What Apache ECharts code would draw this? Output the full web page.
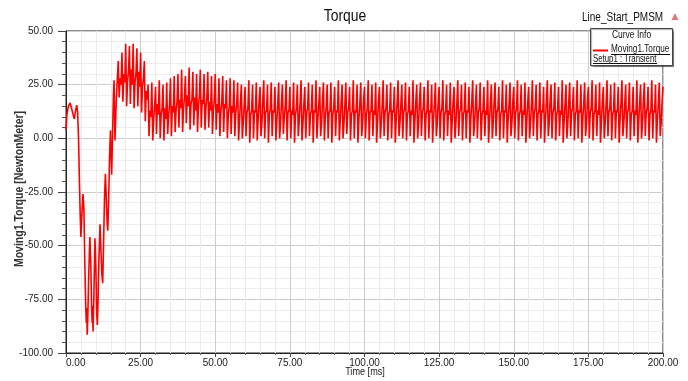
<!DOCTYPE html>
<html>
<head>
<meta charset="utf-8">
<script src="https://cdn.jsdelivr.net/npm/echarts@6/dist/echarts.min.js"></script>
<style>
  html, body { margin: 0; padding: 0; background: #fff; }
  #chart { width: 688px; height: 381px; }
</style>
</head>
<body>
<div id="chart"></div>
<script>
// start-up transient, read point by point: [time ms, torque N.m]
var startupPoints = [
  [0, 4], [0.3, 11], [0.8, 15], [1.4, 16.5], [1.9, 16], [2.4, 11], [2.8, 9],
  [3.2, 13], [3.6, 15.5], [3.9, 12], [4.2, 0], [4.5, -20], [4.8, -38], [5.0, -46],
  [5.3, -36], [5.7, -26], [6.0, -33], [6.3, -58], [6.6, -78], [6.8, -86], [6.95, -79],
  [7.1, -91.5], [7.3, -84], [7.6, -64], [8.0, -46], [8.3, -58], [8.6, -80], [8.8, -86],
  [8.9, -78], [9.05, -90], [9.3, -76], [9.7, -46.5], [10.0, -60], [10.3, -82],
  [10.5, -87], [10.7, -78], [11.0, -58], [11.4, -40], [11.7, -52], [12.0, -63],
  [12.3, -67.5], [12.6, -48], [12.9, -28], [13.2, -16.5], [13.5, -28], [13.8, -40],
  [14.0, -43], [14.3, -28], [14.6, -8], [14.9, 3.7], [15.1, -8], [15.3, -17],
  [15.6, 2], [15.9, 20], [16.1, 27], [16.4, -1], [16.85, 18]
];

// ripple part: one value every 0.3125 ms from 17.5 ms, 32 values = 10 ms per row
var rippleStart = 17.5;
var rippleStep = 0.3125;
var rippleValues = [
  36, 19, 28, 25, 40, 17, 30, 26, 44, 15, 27, 31, 43, 16, 32, 25, 44, 14, 26, 30, 42, 15, 31, 24, 40, 12, 24, 28, 36, 8, 22, 18,
  25, 1, 13, 10, 26, -1, 9, 15, 24, 2, 16, 11, 27, 0, 11, 14, 25, -1, 14, 9, 26, 2, 10, 16, 28, 1, 15, 12, 29, 3, 13, 17,
  30, 5, 18, 14, 32, 3, 14, 19, 29, 7, 20, 15, 33, 4, 16, 18, 31, 6, 19, 13, 30, 3, 15, 20, 32, 5, 18, 16, 30, 4, 14, 19,
  31, 5, 17, 13, 29, 2, 13, 18, 30, 4, 16, 12, 28, 1, 12, 17, 29, 3, 16, 14, 27, 0, 11, 15, 28, 2, 15, 12, 27, 1, 12, 16,
  26, -1, 8, 17, 25, 0, 7, 16, 24, 1, 12, 14, 27, -2, 11, 13, 25, 0, 13, 12, 26, -1, 9, 17, 24, 1, 7, 18, 27, 0, 12, 13,
  25, -2, 11, 14, 26, 1, 13, 12, 24, -1, 8, 16, 26, 0, 7, 17, 25, 2, 10, 15, 27, -1, 12, 13, 24, 0, 13, 11, 26, -2, 11, 14,
  25, 1, 8, 17, 27, -1, 7, 16, 24, 0, 12, 14, 26, 1, 11, 13, 25, -2, 13, 12, 27, 0, 9, 16, 24, 1, 7, 18, 26, -1, 10, 15,
  25, 0, 12, 13, 26, -2, 11, 14, 24, 1, 13, 12, 27, -1, 8, 17, 25, 0, 7, 16, 26, 2, 12, 14, 24, -1, 11, 13, 27, 0, 13, 12,
  25, -2, 9, 16, 26, 1, 7, 18, 24, 0, 11, 14, 27, -1, 12, 13, 25, 1, 13, 11, 26, -2, 8, 17, 24, 0, 7, 16, 27, 1, 12, 14,
  25, -1, 11, 13, 26, 0, 13, 12, 24, -2, 9, 17, 27, 1, 7, 16, 25, 0, 12, 14, 26, -1, 11, 13, 24, 1, 13, 11, 27, -2, 8, 17,
  25, 0, 7, 18, 26, 1, 12, 14, 24, -1, 11, 13, 27, 0, 13, 12, 25, -2, 9, 16, 26, 1, 7, 17, 24, 0, 12, 14, 27, -1, 11, 13,
  25, 1, 13, 11, 26, -2, 8, 17, 24, 0, 7, 16, 27, 1, 12, 14, 25, -1, 11, 13, 26, 0, 13, 12, 24, -2, 9, 17, 27, 1, 7, 16,
  25, 0, 12, 14, 26, -1, 11, 13, 24, 1, 13, 11, 27, -2, 8, 17, 25, 0, 7, 18, 26, 1, 12, 14, 24, -1, 11, 13, 27, 0, 13, 12,
  25, -2, 9, 16, 26, 1, 7, 17, 24, 0, 12, 14, 27, -1, 11, 13, 25, 1, 13, 11, 26, -2, 8, 17, 24, 0, 7, 16, 27, 1, 12, 14,
  25, -1, 11, 13, 26, 0, 13, 12, 24, -2, 9, 17, 27, 1, 7, 18, 25, 0, 12, 14, 26, -1, 11, 13, 24, 1, 13, 11, 27, -2, 8, 16,
  25, 0, 7, 17, 26, 1, 12, 14, 24, -1, 11, 13, 27, 0, 13, 12, 25, -2, 9, 16, 26, 1, 7, 18, 24, 0, 12, 14, 27, -1, 11, 13,
  25, 1, 13, 11, 26, -2, 8, 17, 24, 0, 7, 16, 27, 1, 12, 14, 25, -1, 11, 13, 26, 0, 13, 12, 24, -2, 9, 17, 27, 1, 7, 16,
  25, 0, 12, 14, 26, -1, 11, 13, 24, 1, 13, 11, 27, -2, 8, 17, 25, 0, 7, 18, 26, 1, 12, 14, 24, -1, 11, 13, 27, 0, 13, 12,
  25, -2, 9, 16, 26, 1, 7, 17, 24
];

var xTicks = { min: 0, max: 200, step: 25 };
var yTicks = { min: -100, max: 50, step: 25 };

var font = "'Liberation Sans', Arial, sans-serif";

var torqueData = startupPoints.slice();
rippleValues.forEach(function (v, i) {
  torqueData.push([rippleStart + i * rippleStep, v]);
});

var chartDom = document.getElementById("chart");
var myChart = echarts.init(chartDom, null, { renderer: "canvas" });

var option = {
  animation: false,
  backgroundColor: "#ffffff",
  grid: {
    left: 66, right: 25, top: 31, bottom: 28,
    outerBoundsMode: "none",
    containLabel: false,
    show: true, borderColor: "#222", borderWidth: 1, backgroundColor: "#fff"
  },
  xAxis: {
    type: "value",
    min: xTicks.min, max: xTicks.max, interval: xTicks.step,
    axisLine: { show: true, onZero: false, lineStyle: { color: "#222", width: 1 } },
    axisTick: { show: true, length: 4, lineStyle: { color: "#444" } },
    minorTick: { show: true, splitNumber: 5, length: 2, lineStyle: { color: "#666" } },
    axisLabel: {
      fontFamily: font, fontSize: 10, color: "#222", margin: 5,
      alignMinLabel: "left",
      formatter: function (v) { return v.toFixed(2); }
    },
    splitLine: { show: true, lineStyle: { color: "#cdcdcd", width: 1 } },
    minorSplitLine: { show: true, lineStyle: { color: "#ececec", width: 1 } }
  },
  yAxis: {
    type: "value",
    min: yTicks.min, max: yTicks.max, interval: yTicks.step,
    axisLine: { show: true, onZero: false, lineStyle: { color: "#222", width: 1 } },
    axisTick: { show: true, length: 8, lineStyle: { color: "#444" } },
    minorTick: { show: true, splitNumber: 5, length: 4, lineStyle: { color: "#555" } },
    axisLabel: {
      fontFamily: font, fontSize: 10, color: "#222", margin: 13,
      formatter: function (v) { return v.toFixed(2); }
    },
    splitLine: { show: true, lineStyle: { color: "#cdcdcd", width: 1 } },
    minorSplitLine: { show: true, lineStyle: { color: "#ececec", width: 1 } }
  },
  series: [
    {
      name: "Moving1.Torque",
      type: "line",
      data: torqueData,
      showSymbol: false,
      sampling: null,
      lineStyle: { color: "#ff0000", width: 1.6 },
      itemStyle: { color: "#ff0000" }
    }
  ],
  graphic: [
    // title and project name (narrow face imitated with scaleX)
    {
      type: "text", x: 345, y: 17, scaleX: 0.87,
      style: { text: "Torque", font: "16px " + font, fill: "#111", align: "center", verticalAlign: "middle" }
    },
    {
      type: "text", x: 582, y: 18, scaleX: 0.8,
      style: { text: "Line_Start_PMSM", font: "12.5px " + font, fill: "#111", verticalAlign: "middle" }
    },
    {
      type: "polygon",
      shape: { points: [[675, 13], [678.5, 20], [671.5, 20]] },
      style: { fill: "#e07a7a" }
    },
    // axis names
    {
      type: "text", x: 20, y: 189, rotation: Math.PI / 2, scaleX: 0.875,
      style: { text: "Moving1.Torque [NewtonMeter]", font: "bold 12px " + font, fill: "#333", align: "center", verticalAlign: "middle" }
    },
    {
      type: "text", x: 365, y: 372, scaleX: 0.83,
      style: { text: "Time [ms]", font: "11px " + font, fill: "#222", align: "center", verticalAlign: "middle" }
    },
    // curve info box
    {
      type: "rect",
      shape: { x: 590.5, y: 28.5, width: 82, height: 37 },
      style: { fill: "#fff", stroke: "#444", lineWidth: 1, shadowColor: "rgba(0,0,0,0.35)", shadowOffsetX: 1, shadowOffsetY: 1, shadowBlur: 1 },
      z: 10
    },
    {
      type: "text", x: 631.5, y: 35, scaleX: 0.85, z: 11,
      style: { text: "Curve Info", font: "10px " + font, fill: "#111", align: "center", verticalAlign: "middle" }
    },
    {
      type: "line", z: 11,
      shape: { x1: 593, y1: 50.5, x2: 608, y2: 50.5 },
      style: { stroke: "#ff0000", lineWidth: 2 }
    },
    {
      type: "text", x: 611, y: 49.5, scaleX: 0.82, z: 11,
      style: { text: "Moving1.Torque", font: "10px " + font, fill: "#111", verticalAlign: "middle" }
    },
    {
      type: "line", z: 11,
      shape: { x1: 611, y1: 54.5, x2: 670, y2: 54.5 },
      style: { stroke: "#111", lineWidth: 1 }
    },
    {
      type: "text", x: 593, y: 59, scaleX: 0.78, z: 11,
      style: { text: "Setup1 : Transient", font: "10px " + font, fill: "#111", verticalAlign: "middle" }
    },
    {
      type: "line", z: 11,
      shape: { x1: 593, y1: 63.5, x2: 657, y2: 63.5 },
      style: { stroke: "#111", lineWidth: 1 }
    }
  ]
};

option && myChart.setOption(option);
</script>
</body>
</html>
